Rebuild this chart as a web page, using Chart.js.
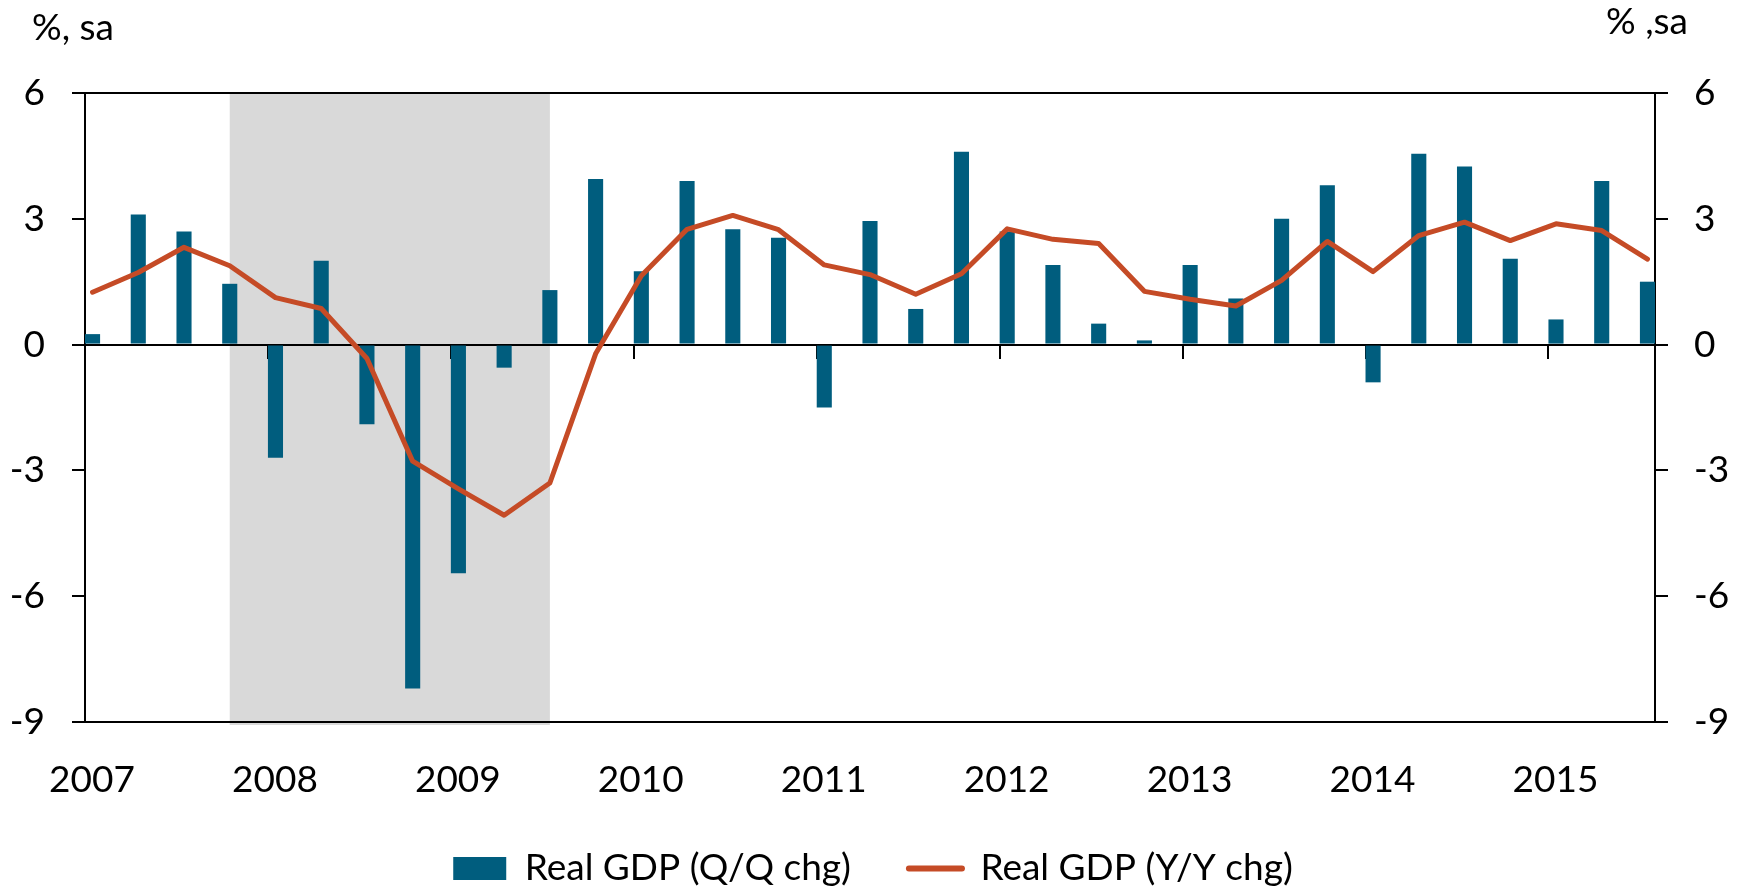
<!DOCTYPE html>
<html>
<head>
<meta charset="utf-8">
<script src="https://cdn.jsdelivr.net/npm/chart.js@4.4.1/dist/chart.umd.min.js"></script>
<style>
  html, body { margin: 0; padding: 0; background: #ffffff; }
  #wrap { width: 1746px; height: 892px; }
  canvas { display: block; }
</style>
</head>
<body>
<div id="wrap"><canvas id="chart" width="1746" height="892"></canvas></div>
<script>
// ---- Data ----
const quarters = [
  '2007Q1','2007Q2','2007Q3','2007Q4',
  '2008Q1','2008Q2','2008Q3','2008Q4',
  '2009Q1','2009Q2','2009Q3','2009Q4',
  '2010Q1','2010Q2','2010Q3','2010Q4',
  '2011Q1','2011Q2','2011Q3','2011Q4',
  '2012Q1','2012Q2','2012Q3','2012Q4',
  '2013Q1','2013Q2','2013Q3','2013Q4',
  '2014Q1','2014Q2','2014Q3','2014Q4',
  '2015Q1','2015Q2','2015Q3'
];
const qoqChange = [
  0.25, 3.1, 2.7, 1.45,
  -2.7, 2.0, -1.9, -8.2,
  -5.45, -0.55, 1.3, 3.95,
  1.75, 3.9, 2.75, 2.55,
  -1.5, 2.95, 0.85, 4.6,
  2.7, 1.9, 0.5, 0.1,
  1.9, 1.1, 3.0, 3.8,
  -0.9, 4.55, 4.25, 2.05,
  0.6, 3.9, 1.5
];
const yoyChange = [
  1.25, 1.72, 2.32, 1.88,
  1.12, 0.86, -0.33, -2.78,
  -3.44, -4.07, -3.3, -0.22,
  1.64, 2.75, 3.08, 2.74,
  1.9, 1.67, 1.2, 1.69,
  2.76, 2.51, 2.41, 1.27,
  1.08, 0.92, 1.53, 2.46,
  1.74, 2.6, 2.92, 2.48,
  2.88, 2.72, 2.04
];
const yearLabels = ['2007','2008','2009','2010','2011','2012','2013','2014','2015'];
const yTickValues = [-9, -6, -3, 0, 3, 6];
const recessionStart = '2007Q4';
const recessionEnd = '2009Q3';
const seriesNames = ['Real GDP (Q/Q chg)', 'Real GDP (Y/Y chg)'];
const leftUnitLabel = '%, sa';
const rightUnitLabel = '% ,sa';

// ---- Styling / layout constants ----
const BAR_COLOR = '#005d7e';
const LINE_COLOR = '#c54b26';
const SHADE_COLOR = '#d9d9d9';
const FONT = 'Lato';
const FONT_SIZE = 37;
const HALF_BAR = 0.165;     // half bar width in quarter units
const BAR_PCT = 0.33;

const xMin = -HALF_BAR;
const xMax = quarters.length - 1 + HALF_BAR;
const yearTickPositions = yearLabels.map(y => quarters.indexOf(y + 'Q1') - HALF_BAR);

const barData = qoqChange.map((v, i) => ({ x: i, y: v }));
const lineData = yoyChange.map((v, i) => ({ x: i, y: v }));

Chart.defaults.font.family = FONT;
Chart.defaults.font.size = FONT_SIZE;
Chart.defaults.color = '#000000';

const shadePlugin = {
  id: 'recessionShade',
  beforeDraw(chart) {
    const x = chart.scales.x;
    const a = chart.chartArea;
    const x0 = x.getPixelForValue(quarters.indexOf(recessionStart));
    const x1 = x.getPixelForValue(quarters.indexOf(recessionEnd));
    const ctx = chart.ctx;
    ctx.save();
    ctx.fillStyle = SHADE_COLOR;
    ctx.fillRect(x0, a.top, x1 - x0, a.bottom - a.top + 3);
    ctx.restore();
  }
};

const unitsPlugin = {
  id: 'unitLabels',
  afterDraw(chart) {
    const ctx = chart.ctx;
    ctx.save();
    ctx.fillStyle = '#000000';
    ctx.font = FONT_SIZE + 'px ' + FONT;
    ctx.textBaseline = 'alphabetic';
    ctx.textAlign = 'left';
    ctx.fillText(leftUnitLabel, 32, 40);
    ctx.fillText(rightUnitLabel, 1606, 34);
    ctx.restore();
  }
};

function yGridColor(c) {
  if (c.tick && (c.tick.value === yTickValues[0] || c.tick.value === yTickValues[yTickValues.length - 1])) {
    return '#000000';
  }
  return 'rgba(0,0,0,0)';
}

function build() {
  new Chart(document.getElementById('chart'), {
    data: {
      datasets: [
        {
          type: 'line',
          label: seriesNames[1],
          data: lineData,
          xAxisID: 'x',
          yAxisID: 'y2',
          borderColor: LINE_COLOR,
          backgroundColor: LINE_COLOR,
          borderWidth: 5,
          pointRadius: 0,
          pointHoverRadius: 0,
          tension: 0,
          borderJoinStyle: 'round',
          borderCapStyle: 'round',
          order: 1
        },
        {
          type: 'bar',
          label: seriesNames[0],
          data: barData,
          xAxisID: 'x',
          yAxisID: 'y',
          backgroundColor: BAR_COLOR,
          borderWidth: 0,
          barPercentage: BAR_PCT,
          categoryPercentage: 1,
          order: 2
        }
      ]
    },
    options: {
      responsive: false,
      animation: false,
      devicePixelRatio: 1,
      layout: { padding: { top: 93, bottom: -5, left: 0, right: 0 } },
      scales: {
        x: {
          type: 'linear',
          position: 'bottom',
          offset: false,
          min: xMin,
          max: xMax,
          grid: { display: false, offset: false },
          border: { display: false },
          afterBuildTicks(scale) {
            scale.ticks = yearTickPositions.map(v => ({ value: v }));
          },
          afterFit(scale) { scale.height = 70; },
          ticks: {
            autoSkip: false,
            maxRotation: 0,
            padding: 28,
            labelOffset: 7,
            font: { size: FONT_SIZE, family: FONT },
            color: '#000000',
            callback(value, index) { return yearLabels[index]; }
          }
        },
        xZero: {
          type: 'linear',
          position: { y: 0 },
          offset: false,
          min: xMin,
          max: xMax,
          grid: {
            offset: false,
            drawOnChartArea: false,
            drawTicks: true,
            tickLength: 13,
            tickColor: '#000000',
            color: '#000000',
            lineWidth: 2
          },
          border: { display: true, color: '#000000', width: 2 },
          afterBuildTicks(scale) {
            scale.ticks = yearTickPositions.map(v => ({ value: v }));
          },
          ticks: { display: false }
        },
        y: {
          type: 'linear',
          position: 'left',
          min: yTickValues[0],
          max: yTickValues[yTickValues.length - 1],
          afterBuildTicks(scale) {
            scale.ticks = yTickValues.map(v => ({ value: v }));
          },
          afterFit(scale) { scale.width = 85; },
          grid: {
            drawOnChartArea: true,
            drawTicks: true,
            tickLength: 13,
            color: yGridColor,
            tickColor: '#000000',
            lineWidth: 2
          },
          border: { display: true, color: '#000000', width: 2 },
          ticks: {
            padding: 27,
            font: { size: FONT_SIZE, family: FONT },
            color: '#000000'
          }
        },
        y2: {
          type: 'linear',
          position: 'right',
          min: yTickValues[0],
          max: yTickValues[yTickValues.length - 1],
          afterBuildTicks(scale) {
            scale.ticks = yTickValues.map(v => ({ value: v }));
          },
          afterFit(scale) { scale.width = 91; },
          grid: {
            drawOnChartArea: false,
            drawTicks: true,
            tickLength: 13,
            tickColor: '#000000',
            color: '#000000',
            lineWidth: 2
          },
          border: { display: true, color: '#000000', width: 2 },
          ticks: {
            padding: 26,
            font: { size: FONT_SIZE, family: FONT },
            color: '#000000'
          }
        }
      },
      plugins: {
        tooltip: { enabled: false },
        legend: {
          position: 'bottom',
          align: 'center',
          labels: {
            usePointStyle: true,
            pointStyleWidth: 53,
            boxHeight: 23,
            padding: 58,
            font: { size: FONT_SIZE, family: FONT },
            color: '#000000',
            generateLabels(chart) {
              return [
                {
                  text: seriesNames[0],
                  fillStyle: BAR_COLOR,
                  strokeStyle: BAR_COLOR,
                  lineWidth: 0,
                  pointStyle: 'rect',
                  datasetIndex: 1,
                  hidden: false
                },
                {
                  text: seriesNames[1],
                  fillStyle: LINE_COLOR,
                  strokeStyle: LINE_COLOR,
                  lineWidth: 6,
                  lineCap: 'round',
                  pointStyle: 'line',
                  datasetIndex: 0,
                  hidden: false
                }
              ];
            }
          }
        }
      }
    },
    plugins: [shadePlugin, unitsPlugin]
  });
}

if (document.fonts && document.fonts.load) {
  document.fonts.load(FONT_SIZE + 'px ' + FONT).then(build, build);
} else {
  build();
}
</script>
</body>
</html>
